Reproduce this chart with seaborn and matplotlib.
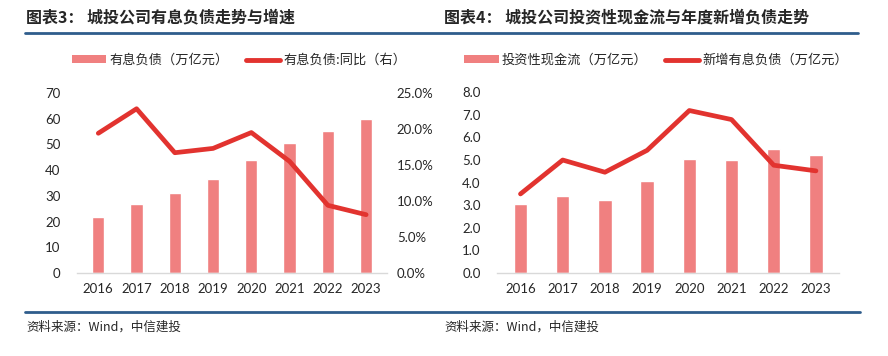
import numpy as np
import pandas as pd
import seaborn as sns
import matplotlib.pyplot as plt
from matplotlib.patches import Patch
from matplotlib.lines import Line2D
from matplotlib.ticker import FuncFormatter, MultipleLocator

# 数据
years = ['2016', '2017', '2018', '2019', '2020', '2021', '2022', '2023']
debt = [21.6, 26.7, 31.2, 36.6, 43.8, 50.7, 55.2, 59.9]          # 有息负债（万亿元）
debt_yoy = [0.194, 0.228, 0.167, 0.173, 0.195, 0.155, 0.094, 0.081]  # 同比
invest_cf = [3.04, 3.39, 3.23, 4.09, 5.05, 4.99, 5.48, 5.22]     # 投资性现金流（万亿元）
new_debt = [3.50, 5.00, 4.46, 5.43, 7.19, 6.79, 4.77, 4.52]      # 新增有息负债（万亿元）

BAR = '#F08080'
LINE = '#E2332F'
BLUE = '#2F5D8C'

sns.set_theme(style='white')
plt.rcParams['font.family'] = ['Lato', 'Noto Sans CJK SC', 'DejaVu Sans']
CJK = ['Noto Sans CJK SC', 'DejaVu Sans']

fig = plt.figure(figsize=(8.88, 3.56), dpi=100)


def draw_panel(rect, bars, line, ylim, ystep, yfmt, line_ylim=None, line_step=None):
    ax = fig.add_axes(rect)
    sns.barplot(x=years, y=bars, color=BAR, width=0.32, saturation=1, ax=ax)
    ax2 = ax.twinx()
    sns.pointplot(x=years, y=line, color=LINE, markers='', linestyles='-',
                  errorbar=None, linewidth=3.4, ax=ax2)
    ax.set_ylim(*ylim)
    ax.yaxis.set_major_locator(MultipleLocator(ystep))
    ax.yaxis.set_major_formatter(FuncFormatter(yfmt))
    if line_ylim is not None:
        ax2.set_ylim(*line_ylim)
        ax2.yaxis.set_major_locator(MultipleLocator(line_step))
        ax2.yaxis.set_major_formatter(FuncFormatter(lambda v, p: f'{v * 100:.1f}%'))
        ax2.tick_params(axis='y', labelsize=9.5, pad=7, length=0)
    else:
        ax2.set_ylim(*ylim)
        ax2.set_yticks([])
    ax.set_xlim(-0.55, len(years) - 0.45)
    for a in (ax, ax2):
        a.set_xlabel('')
        a.set_ylabel('')
        for s in ('top', 'left', 'right', 'bottom'):
            a.spines[s].set_visible(False)
    ax.spines['bottom'].set_visible(True)
    ax.spines['bottom'].set_color('#D9D9D9')
    ax.spines['bottom'].set_linewidth(1)
    ax.tick_params(axis='y', labelsize=9.5, pad=12, length=0)
    ax.tick_params(axis='x', labelsize=9.5, pad=7, length=0)
    return ax, ax2


# 图表3
draw_panel([0.087, 0.233, 0.349, 0.506], debt, debt_yoy, (0, 70), 10,
           lambda v, p: f'{v:.0f}', line_ylim=(0, 0.25), line_step=0.05)
# 图表4
draw_panel([0.560, 0.233, 0.385, 0.508], invest_cf, new_debt, (0, 8), 1,
           lambda v, p: f'{v:.1f}')


# 图例
def legend(xc, bar_label, line_label):
    handles = [Patch(facecolor=BAR, edgecolor='none', label=bar_label),
               Line2D([], [], color=LINE, lw=3.5, label=line_label)]
    fig.legend(handles=handles, loc='center', bbox_to_anchor=(xc, 0.831), ncol=2,
               frameon=False, handlelength=2.6, handleheight=0.45, handletextpad=0.25,
               columnspacing=1.3, prop={'family': CJK, 'size': 9.5})


legend(0.269, '有息负债（万亿元）', '有息负债:同比（右）')
legend(0.739, '投资性现金流（万亿元）', '新增有息负债（万亿元）')

# 标题与横线
fig.text(26 / 888, 1 - 17 / 356, '图表3： 城投公司有息负债走势与增速', family=CJK,
         weight='bold', size=11.5, va='center', ha='left')
fig.text(444 / 888, 1 - 17 / 356, '图表4： 城投公司投资性现金流与年度新增负债走势', family=CJK,
         weight='bold', size=11.5, va='center', ha='left')
fig.add_artist(Line2D([25 / 888, 443 / 888], [1 - 33 / 356] * 2, color=BLUE, lw=2))
fig.add_artist(Line2D([444 / 888, 858 / 888], [1 - 33 / 356] * 2, color=BLUE, lw=2))
fig.add_artist(Line2D([25 / 888, 860 / 888], [1 - 312 / 356] * 2, color=BLUE, lw=2))

# 资料来源
fig.text(26 / 888, 1 - 327 / 356, '资料来源：Wind，中信建投', family=CJK, size=9,
         style='italic', va='center', ha='left')
fig.text(444 / 888, 1 - 327 / 356, '资料来源：Wind，中信建投', family=CJK, size=9,
         style='italic', va='center', ha='left')

fig.savefig('out.png', dpi=100)
